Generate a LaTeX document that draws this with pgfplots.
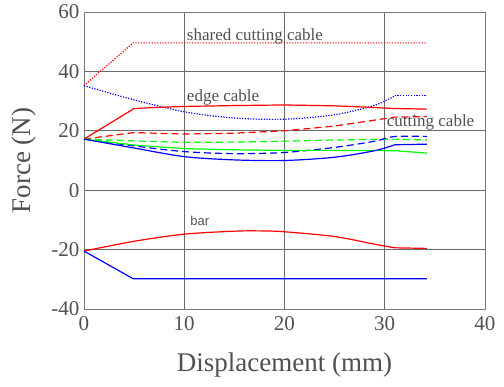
\documentclass[border=0pt]{standalone}
\usepackage{fontspec}
\setmainfont{Liberation Serif}
\newfontfamily\sansf{Liberation Sans}
\usepackage{pgfplots}
\pgfplotsset{compat=1.18}
\definecolor{txt}{RGB}{80,80,80}
\definecolor{gridc}{RGB}{105,105,105}
\definecolor{framec}{RGB}{120,120,120}
\begin{document}
\begin{tikzpicture}
\path[use as bounding box] (-84pt,-78pt) rectangle (420pt,309pt);
\begin{axis}[
  at={(0pt,0pt)}, anchor=south west,
  scale only axis, width=401pt, height=297pt,
  xmin=0, xmax=40, ymin=-40, ymax=60,
  xtick={0,10,20,30,40}, ytick={-40,-20,0,20,40,60},
  grid=major,
  major grid style={gridc, line width=0.8pt},
  axis line style={framec, line width=0.9pt},
  tick style={draw=none},
  /pgf/number format/assume math mode=true,
  ticklabel style={font=\rmfamily\fontsize{21}{21}\selectfont, text=txt},
  xticklabel style={yshift=-4pt},
  yticklabel style={xshift=-1pt},
  xlabel={Displacement (mm)},
  ylabel={Force (N)},
  label style={font=\rmfamily\fontsize{27}{27}\selectfont, text=txt},
  xlabel style={at={(axis description cs:0.5,-0.212)}, anchor=base},
  ylabel style={at={(axis description cs:-0.15,0.5)}, anchor=center},
  every axis plot/.append style={line width=1.2pt},
  clip=false,
]
% shared cutting cable (red dotted)
\addplot[red, dash pattern=on 1.2pt off 1.5pt] coordinates {(0,35.2) (4.9,49.6) (34.2,49.6)};
% blue dotted
\addplot[blue, dash pattern=on 1.2pt off 1.5pt, smooth] coordinates {(0,35.2) (5,30.4) (10,26.4) (15,24.3) (20,23.9) (25,25.4) (29,28.6) (31,31.8)};
\addplot[blue, dash pattern=on 1.2pt off 1.5pt] coordinates {(31,31.8) (34.2,31.8)};
% red solid edge cable
\addplot[red] coordinates {(0,17.2) (5,27.5) (7.5,27.9) (10,28.2) (15,28.5) (20,28.7) (25,28.4) (28,28.0) (31,27.5) (34.2,27.3)};
% red dashed
\addplot[red, dash pattern=on 7pt off 4pt] coordinates {(0,17.2) (5,19.4) (10,18.9) (15,19.2) (20,20.0) (25,21.6) (29,23.6) (31,24.6) (34.2,24.8)};
% green dashed
\addplot[green, dash pattern=on 7pt off 4pt] coordinates {(0,17.2) (5,16.6) (10,16.1) (15,16.2) (20,16.5) (25,16.9) (31,17.2) (34.2,16.9)};
% blue dashed
\addplot[blue, dash pattern=on 7pt off 4pt, smooth] coordinates {(0,17.2) (5,14.9) (10,13.0) (15,12.3) (20,12.7) (25,14.4) (29,16.5) (31,18.1) (34.2,18.1)};
% green solid
\addplot[green] coordinates {(0,17.2) (5,15.2) (10,14.0) (15,13.6) (20,13.4) (25,13.4) (31,13.3) (34.2,12.5)};
% blue solid
\addplot[blue, smooth] coordinates {(0,17.2) (5,14.2) (10,11.3) (15,10.2) (20,10.0) (25,11.1) (29,13.3) (31,15.3)};
\addplot[blue] coordinates {(31,15.3) (34.2,15.5)};
% bar red
\addplot[red, smooth] coordinates {(0,-20.5) (5,-17.2) (10,-14.8) (15,-13.8) (17.5,-13.7) (20,-14.0) (25,-15.6) (29,-18.2) (31,-19.4)};
\addplot[red] coordinates {(31,-19.4) (34.2,-19.6)};
% bar blue
\addplot[blue] coordinates {(0,-20.5) (4.9,-29.8) (34.2,-29.8)};
\node[anchor=base west, inner sep=0pt, text=txt, font=\rmfamily\fontsize{17}{17}\selectfont] at (axis cs:10.25,50.5) {shared cutting cable};
\node[anchor=base west, inner sep=0pt, text=txt, font=\rmfamily\fontsize{17}{17}\selectfont] at (axis cs:10.25,29.9) {edge cable};
\node[anchor=base west, inner sep=0pt, text=txt, font=\rmfamily\fontsize{17}{17}\selectfont] at (axis cs:30.2,21.5) {cutting cable};
\node[anchor=base west, inner sep=0pt, text=txt, font=\sansf\fontsize{13}{13}\selectfont] at (axis cs:10.6,-12.0) {bar};
\end{axis}
\end{tikzpicture}
\end{document}
